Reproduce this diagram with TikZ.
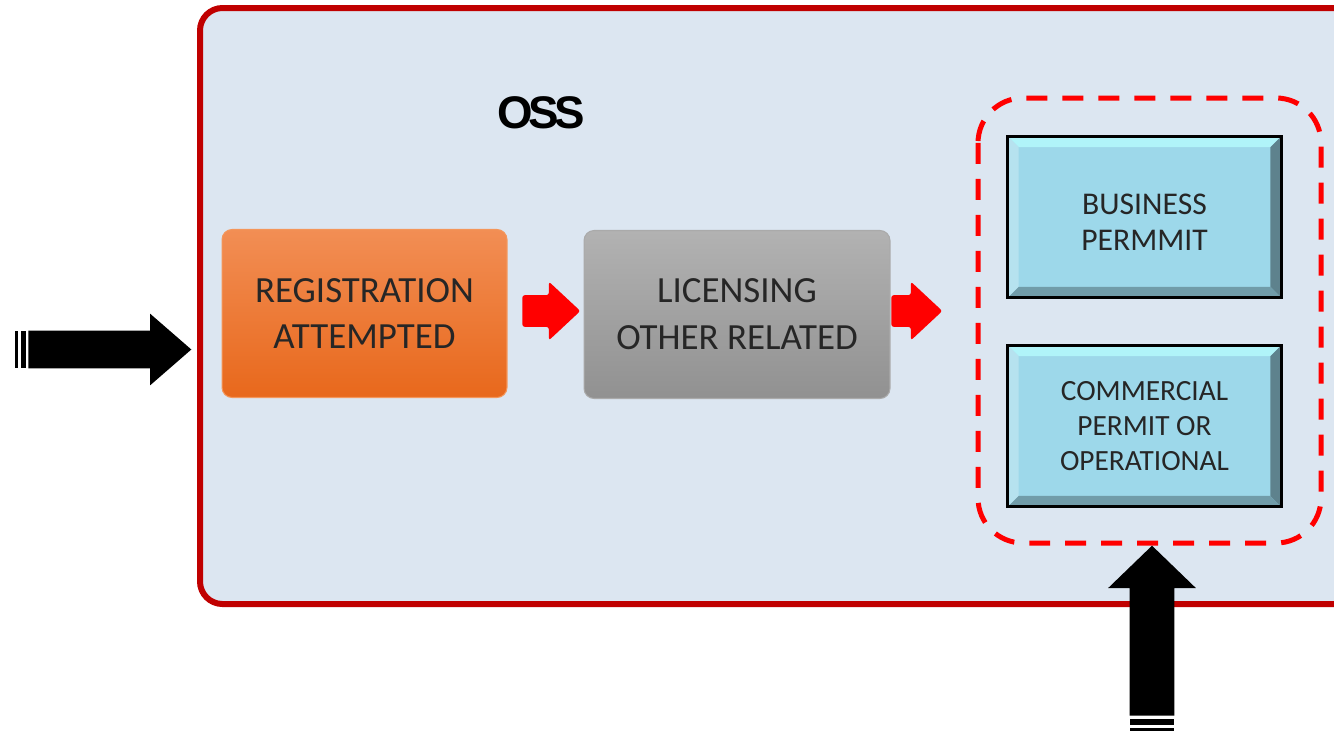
\documentclass[tikz,border=0pt]{standalone}
\usepackage{fontspec}
\setmainfont{Carlito}
\newfontfamily\ossfont{Liberation Sans}
\usetikzlibrary{shapes.arrows,calc}
\definecolor{ossred}{HTML}{C00000}
\definecolor{ossbg}{HTML}{DCE6F1}
\definecolor{dashred}{HTML}{FF0000}
\definecolor{permit}{HTML}{9DD8EA}
\definecolor{boxtext}{HTML}{262626}
\newcommand\lowered[1]{\raisebox{-3pt}[\height][\depth]{#1}}
\tikzset{
  phase/.style={rounded corners=0.2cm, minimum width=5.7cm, minimum height=3.36cm,
    align=center, text=boxtext, font=\fontsize{21}{26.7}\selectfont, line width=0.6pt},
  permitbox/.style={fill=permit, minimum width=5.46cm, minimum height=3.22cm,
    align=center, text=boxtext, inner sep=0pt},
  redarrow/.style={single arrow, fill=dashred, anchor=tail, inner xsep=0pt, inner ysep=0.31cm,
    minimum height=1.16cm, single arrow head extend=0.27cm, single arrow tip angle=86,
    rounded corners=0.05cm},
  blockarrow/.style={single arrow, fill=black, anchor=tail, inner xsep=0pt}
}

\begin{document}
\begin{tikzpicture}[x=0.02cm, y=-0.02cm]
  \useasboundingbox (0,0) rectangle (1334,731);
  \clip (0,0) rectangle (1334,731);
  % outer OSS frame
  \draw[line width=0.12cm, draw=ossred, fill=ossbg, rounded corners=0.45cm] (200,8) rectangle (1400,604);
  \node (oss) at (541,113) {\ossfont\bfseries\fontsize{26}{30}\selectfont O\kern-2.5pt S\kern-2.5pt S};
  % process boxes
  \node[phase, top color={rgb,255:red,242;green,142;blue,84}, bottom color={rgb,255:red,232;green,104;blue,28},
    draw={rgb,255:red,244;green,150;blue,90}] (reg) at (364.5,313.5) {REGISTRATION\\ATTEMPTED};
  \node[phase, minimum width=6.12cm, top color={rgb,255:red,178;green,178;blue,178},
    bottom color={rgb,255:red,145;green,145;blue,145}, draw={rgb,255:red,170;green,170;blue,170}]
    (lic) at (737,314.5) {LICENSING\\OTHER RELATED};
  \node[redarrow] (arrA) at (522,311) {};
  \node[redarrow, minimum height=1.02cm] (arrB) at (891,311) {};
  % permits group
  \draw[dashred, line width=0.1cm, dash pattern=on 0.42cm off 0.3cm, rounded corners=0.9cm]
    (978,98) rectangle (1321,543);
  \node[permitbox, font=\fontsize{18}{21}\selectfont] (bp) at (1144.5,217) {\lowered{BUSINESS}\\\lowered{PERMMIT}};
  \node[permitbox, font=\fontsize{16.7}{20}\selectfont] (cp) at (1144.5,426) {COMMERCIAL\\PERMIT OR\\OPERATIONAL};
  \foreach \b in {bp,cp} {
    \fill[white!65!permit!80!cyan] (\b.north west) -- (\b.north east) -- ($(\b.north east)+(-0.22cm,-0.22cm)$)
      -- ($(\b.north west)+(0.22cm,-0.22cm)$) -- cycle;
    \fill[white!25!permit] (\b.north west) -- ($(\b.north west)+(0.22cm,-0.22cm)$)
      -- ($(\b.south west)+(0.22cm,0.22cm)$) -- (\b.south west) -- cycle;
    \fill[black!40!permit] (\b.north east) -- ($(\b.north east)+(-0.22cm,-0.22cm)$)
      -- ($(\b.south east)+(-0.22cm,0.22cm)$) -- (\b.south east) -- cycle;
    \fill[black!28!permit] (\b.south west) -- ($(\b.south west)+(0.22cm,0.22cm)$)
      -- ($(\b.south east)+(-0.22cm,0.22cm)$) -- (\b.south east) -- cycle;
    \draw[line width=0.06cm] (\b.north west) rectangle (\b.south east);
  }
  % incoming arrows
  \node[blockarrow, minimum height=3.26cm, inner ysep=0.37cm, single arrow head extend=0.34cm,
    single arrow tip angle=82] (inL) at (28,349.5) {};
  \fill (15,331) rectangle (18,368);
  \fill (21,331) rectangle (25.5,368);
  \node[blockarrow, rotate=90, minimum height=3.4cm, inner ysep=0.44cm,
    single arrow head extend=0.43cm, single arrow tip angle=92] (inB) at (1152,716) {};
  \fill (1130,719) rectangle (1174,725);
  \fill (1130,728) rectangle (1174,731);
\end{tikzpicture}
\end{document}
